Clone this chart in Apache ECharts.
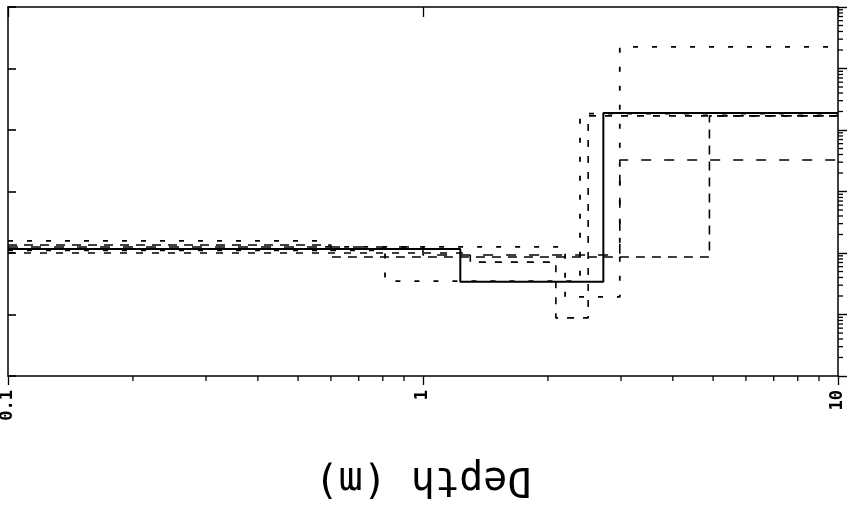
<!DOCTYPE html>
<html>
<head>
<meta charset="utf-8">
<script src="https://cdn.jsdelivr.net/npm/echarts@6/dist/echarts.min.js"></script>
<style>
  html, body { margin: 0; padding: 0; background: #fff; }
  #chart { width: 866px; height: 510px; }
</style>
</head>
<body>
<div id="chart"></div>
<script>
// Axis ranges: depth (m) along x, resistivity along y, both logarithmic
const depthRange = [0.1, 10];
const resRange = [1, 1e6];
const depthLabels = ['0.1', '1', '10'];

// Minor tick positions for the log axes
const depthMinorTicks = [0.2, 0.3, 0.4, 0.5, 0.6, 0.7, 0.8, 0.9, 2, 3, 4, 5, 6, 7, 8, 9];
const resMantissas = [2, 3, 4, 5, 6, 7, 8, 9];
const resDecades = [1, 10, 100, 1000, 10000, 100000];

// Layered models: layer boundary depths and the resistivity of each layer
const trueDepths = [0.1, 1.23, 2.72, 10];
const trueRes = [116, 34, 18900];

const modelADepths = [0.1, 0.81, 2.39, 10];
const modelARes = [110, 35, 18500];

const modelBDepths = [0.1, 0.57, 2.2, 2.98, 10];
const modelBRes = [157, 126, 19.3, 224000];

const modelCDepths = [0.1, 1.3, 2.09, 2.5, 10];
const modelCRes = [100, 71, 8.8, 17000];

const modelDDepths = [0.1, 0.6, 4.9, 10];
const modelDRes = [135, 86, 17000];

const modelEDepths = [0.1, 1.0, 2.98, 10];
const modelERes = [125, 93, 3250];

function stepPoints(depths, res) {
  return depths.map((d, i) => [d, res[Math.min(i, res.length - 1)]]);
}

function modelSeries(name, depths, res, dash, width) {
  return {
    name: name,
    type: 'line',
    step: 'end',
    symbol: 'none',
    silent: true,
    animation: false,
    data: stepPoints(depths, res),
    lineStyle: { color: '#000', width: width, type: dash }
  };
}

// Short tick marks drawn outside the plot frame
function tickSeries(data, side, len) {
  return {
    type: 'custom',
    silent: true,
    animation: false,
    clip: false,
    z: 10,
    data: data,
    renderItem: function (params, api) {
      const p = api.coord([api.value(0), api.value(1)]);
      const q = side === 'right' ? [p[0] + len, p[1]] : [p[0], p[1] + len];
      return {
        type: 'line',
        shape: { x1: p[0], y1: p[1], x2: q[0], y2: q[1] },
        style: { stroke: '#000', lineWidth: 1.3 }
      };
    }
  };
}

const resMinorTicks = [];
resDecades.forEach(dec => resMantissas.forEach(m => resMinorTicks.push(m * dec)));

const chart = echarts.init(document.getElementById('chart'), null, { renderer: 'canvas' });

const labelFont = 'DejaVu Sans Mono';

chart.setOption({
  backgroundColor: '#fff',
  animation: false,
  grid: { left: 8, right: 28, top: 7, bottom: 134, containLabel: false, outerBoundsMode: 'none' },
  xAxis: [
    {
      type: 'log',
      min: depthRange[0],
      max: depthRange[1],
      splitNumber: 2,
      position: 'bottom',
      name: 'Depth (m)',
      nameLocation: 'middle',
      nameGap: 82,
      nameRotate: 180,
      nameTextStyle: { fontFamily: labelFont, fontSize: 40, color: '#000' },
      axisLine: { lineStyle: { color: '#000', width: 1.5 } },
      axisTick: { show: true, inside: false, length: 9, lineStyle: { color: '#000', width: 1.3 } },
      axisLabel: {
        show: true,
        rotate: 90,
        margin: 14,
        fontFamily: labelFont,
        fontSize: 17,
        fontWeight: 'bold',
        color: '#000',
        showMinLabel: true,
        showMaxLabel: true,
        formatter: function (v) {
          const i = Math.round(Math.log10(v) - Math.log10(depthRange[0]));
          return depthLabels[i] || '';
        }
      },
      splitLine: { show: false }
    },
    {
      type: 'log',
      min: depthRange[0],
      max: depthRange[1],
      splitNumber: 2,
      position: 'top',
      axisLine: { lineStyle: { color: '#000', width: 1.5 } },
      axisTick: { show: true, inside: true, length: 10, lineStyle: { color: '#000', width: 1.3 } },
      axisLabel: { show: false },
      splitLine: { show: false }
    }
  ],
  yAxis: [
    {
      type: 'log',
      min: resRange[0],
      max: resRange[1],
      splitNumber: 6,
      position: 'left',
      axisLine: { lineStyle: { color: '#000', width: 1.5 } },
      axisTick: { show: true, inside: true, length: 8, lineStyle: { color: '#000', width: 1.6 } },
      axisLabel: { show: false },
      splitLine: { show: false }
    },
    {
      type: 'log',
      min: resRange[0],
      max: resRange[1],
      splitNumber: 6,
      position: 'right',
      axisLine: { lineStyle: { color: '#000', width: 1.5 } },
      axisTick: { show: true, inside: false, length: 9, lineStyle: { color: '#000', width: 1.4 } },
      axisLabel: { show: false },
      splitLine: { show: false }
    }
  ],
  series: [
    modelSeries('true model', trueDepths, trueRes, 'solid', 2),
    modelSeries('model A', modelADepths, modelARes, [5, 14], 1.8),
    modelSeries('model B', modelBDepths, modelBRes, [5, 14], 1.8),
    modelSeries('model C', modelCDepths, modelCRes, [7, 9], 1.6),
    modelSeries('model D', modelDDepths, modelDRes, [9, 7], 1.6),
    modelSeries('model E', modelEDepths, modelERes, [10, 13], 1.6),
    tickSeries(resMinorTicks.map(v => [depthRange[1], v]), 'right', 5),
    tickSeries(depthMinorTicks.map(v => [v, resRange[0]]), 'bottom', 5)
  ]
});
</script>
</body>
</html>
